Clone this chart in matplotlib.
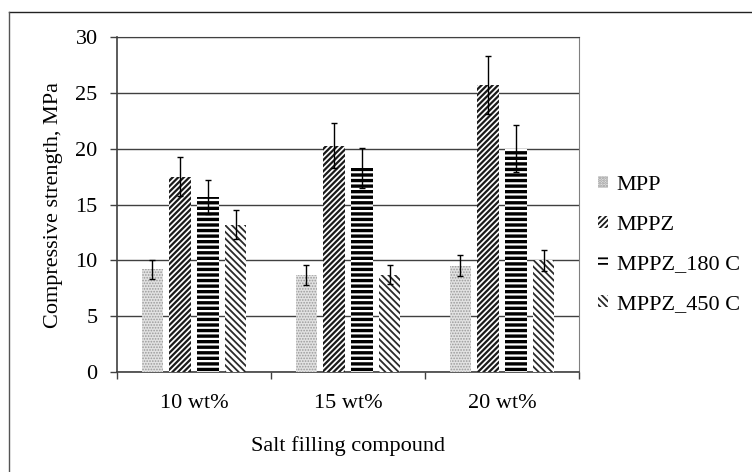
import numpy as np
import matplotlib
matplotlib.use("Agg")
import matplotlib.pyplot as plt
from matplotlib.lines import Line2D

categories = ["10 wt%", "15 wt%", "20 wt%"]
series = ["MPP", "MPPZ", "MPPZ_180 C", "MPPZ_450 C"]

mpp = [9.2, 8.7, 9.5]
mppz = [17.5, 20.3, 25.7]
mppz_180 = [15.7, 18.3, 20.0]
mppz_450 = [13.2, 8.7, 10.0]

mpp_err = [0.85, 0.9, 0.95]
mppz_err = [1.75, 2.0, 2.6]
mppz_180_err = [1.55, 1.8, 2.1]
mppz_450_err = [1.3, 0.85, 0.95]

values = [mpp, mppz, mppz_180, mppz_450]
errors = [mpp_err, mppz_err, mppz_180_err, mppz_450_err]

styles = [
    dict(facecolor="#e2e2e2", edgecolor="#9a9a9a", hatch="......", hlw=0.8),
    dict(facecolor="white", edgecolor="#1a1a1a", hatch="//////", hlw=1.6),
    dict(facecolor="white", edgecolor="black", hatch="---", hlw=2.4),
    dict(facecolor="white", edgecolor="#2a2a2a", hatch="\\\\\\\\\\", hlw=1.3),
]

plt.rcParams["font.family"] = ["Liberation Serif", "DejaVu Serif"]
plt.rcParams["font.size"] = 16

fig = plt.figure(figsize=(7.52, 4.72), dpi=100)
ax = fig.add_axes([0.1556, 0.2125, 0.770 - 0.1556, 0.9206 - 0.2125])

x = np.arange(len(categories))
width = 0.14
step = 0.18
offsets = (np.arange(len(series)) - 1.5) * step

for i, name in enumerate(series):
    st = styles[i]
    plt.rcParams["hatch.linewidth"] = st["hlw"]
    bars = ax.bar(x + offsets[i], values[i], width, label=name,
                  facecolor=st["facecolor"], edgecolor=st["edgecolor"],
                  hatch=st["hatch"], linewidth=0, zorder=3)
    for b in bars:
        if hasattr(b, "set_hatch_linewidth"):
            b.set_hatch_linewidth(st["hlw"])
    ax.errorbar(x + offsets[i], values[i], yerr=errors[i], fmt="none",
                ecolor="black", elinewidth=1.0, capsize=2.4, capthick=1.0,
                zorder=4)

ax.set_xlim(-0.5, 2.5)
ax.set_ylim(0, 30)
ax.set_yticks(range(0, 31, 5))
ax.set_xticks(x)
ax.set_xticklabels(categories)
ax.set_xticks([-0.5, 0.5, 1.5, 2.5], minor=True)
ax.tick_params(axis="x", which="major", length=0, pad=16)
ax.tick_params(axis="x", which="minor", length=5, width=1, color="#404040",
               direction="out")
ax.tick_params(axis="y", length=5, width=1, color="#404040", pad=9)
ax.yaxis.grid(True, color="#404040", linewidth=1.0, zorder=0)
ax.set_axisbelow(True)

for side in ["left", "bottom"]:
    ax.spines[side].set_color("#404040")
    ax.spines[side].set_linewidth(1.2)
ax.spines["top"].set_color("#404040")
ax.spines["right"].set_color("#808080")
ax.spines["right"].set_linewidth(0.8)

ax.set_ylabel("Compressive strength, MPa", labelpad=9)
ax.set_xlabel("Salt filling compound", labelpad=17)

fig.legend(loc="center left", bbox_to_anchor=(0.795, 0.481), frameon=False,
           handlelength=0.45, handleheight=0.45, handletextpad=0.4,
           labelspacing=0.92, borderpad=0, borderaxespad=0)

# outer frame (top and left edges)
fig.add_artist(Line2D([9 / 752, 1.0], [1 - 12 / 472, 1 - 12 / 472],
                      color="#222222", linewidth=1.0))
fig.add_artist(Line2D([9 / 752, 9 / 752], [0.0, 1 - 12 / 472],
                      color="#555555", linewidth=1.0))

fig.savefig("out.png", dpi=100)
